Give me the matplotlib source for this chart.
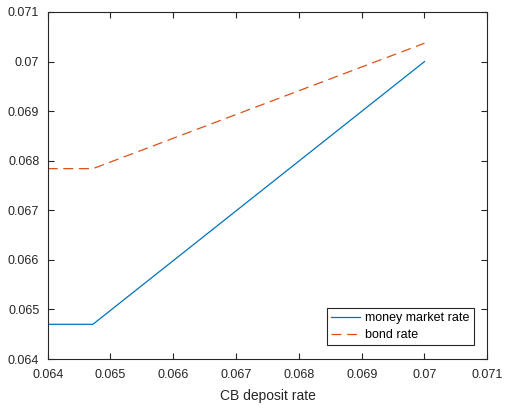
import numpy as np
import matplotlib.pyplot as plt

plt.rcParams['font.family'] = ['Liberation Sans', 'DejaVu Sans']

# values
cb_rate = [0.064, 0.06472, 0.070]
money_market = [0.06470, 0.06470, 0.070]
bond_rate = [0.067840, 0.067840, 0.070370]

x_ticks = [0.064, 0.065, 0.066, 0.067, 0.068, 0.069, 0.07, 0.071]
y_ticks = [0.064, 0.065, 0.066, 0.067, 0.068, 0.069, 0.07, 0.071]
tick_labels = ['0.064', '0.065', '0.066', '0.067', '0.068', '0.069', '0.07', '0.071']

fig = plt.figure(figsize=(5.05, 4.09), dpi=100)
ax = fig.add_axes([47.7 / 505, 1 - 359 / 409, 439.6 / 505, 347 / 409])

ax.plot(cb_rate, money_market, color='#0072BD', lw=0.9, label='money market rate')
ax.plot(cb_rate, bond_rate, color='#D95319', lw=0.9, ls=(0, (8, 4.5)), label='bond rate')

ax.set_xlim(0.064, 0.071)
ax.set_ylim(0.064, 0.071)
ax.set_xticks(x_ticks)
ax.set_xticklabels(tick_labels)
ax.set_yticks(y_ticks)
ax.set_yticklabels(tick_labels)

gray = '#262626'
for s in ax.spines.values():
    s.set_color(gray)
    s.set_linewidth(0.8)
ax.tick_params(direction='in', top=True, right=True, length=4, width=0.8,
               colors=gray, labelsize=9)
ax.tick_params(axis='x', pad=7)
ax.tick_params(axis='y', pad=6)
ax.set_xlabel('CB deposit rate', fontsize=10, color=gray, labelpad=6)

leg = ax.legend(loc='lower right', fontsize=9, fancybox=False, framealpha=1,
                edgecolor=gray, borderaxespad=1.1, handlelength=2.3,
                borderpad=0.35, labelspacing=0.35, handletextpad=0.4)
leg.get_frame().set_linewidth(0.8)

fig.savefig('out.png', dpi=100)
